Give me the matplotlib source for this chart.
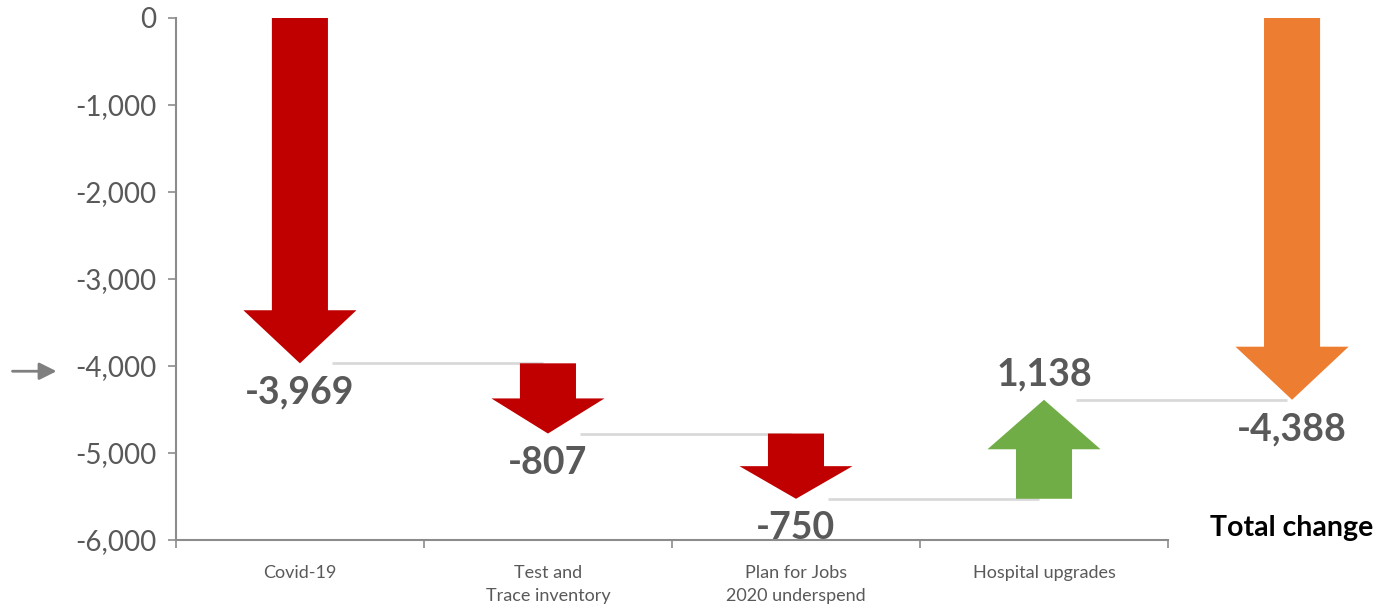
import numpy as np
import matplotlib
matplotlib.use("Agg")
import matplotlib.pyplot as plt
from matplotlib.patches import FancyArrow

# --- Data ---
categories = ["Covid-19", "Test and\nTrace inventory", "Plan for Jobs\n2020 underspend", "Hospital upgrades"]
changes = [-3969, -807, -750, 1138]
total_label = "Total change"
total_value = sum(changes)
yticks = [0, -1000, -2000, -3000, -4000, -5000, -6000]

# --- Style ---
RED = "#C00000"
GREEN = "#70AD47"
ORANGE = "#ED7D31"
LABEL_GREY = "#595959"
AXIS_GREY = "#8C8C8C"
LINE_GREY = "#D9D9D9"
plt.rcParams['font.family'] = ['Lato', 'DejaVu Sans']

fig = plt.figure(figsize=(13.96, 6.08), dpi=100)
ax = fig.add_axes([0.126, 0.1118, 0.7107, 0.8586])
ax.set_xlim(0, len(categories))
ax.set_ylim(-6000, 0)

shaft_w = 0.226
head_w = 0.456
max_head = 610


def draw_arrow(x, start, delta, color):
    head_len = min(abs(delta) * 0.5, max_head)
    arr = FancyArrow(x, start, 0, delta, width=shaft_w, head_width=head_w,
                     head_length=head_len, length_includes_head=True,
                     color=color, lw=0, zorder=3, clip_on=False)
    ax.add_patch(arr)


# --- Waterfall arrows ---
level = 0
ends = []
xs = np.arange(len(categories)) + 0.5
for i, (x, d) in enumerate(zip(xs, changes)):
    color = GREEN if d > 0 else RED
    draw_arrow(x, level, d, color)
    level += d
    ends.append(level)
    txt = f"{d:,}"
    if d > 0:
        ax.annotate(txt, (x, level), xytext=(0, 6), textcoords='offset points',
                    ha='center', va='bottom', fontsize=27, fontweight='bold', color=LABEL_GREY)
    else:
        ax.annotate(txt, (x, level), xytext=(0, -9), textcoords='offset points',
                    ha='center', va='top', fontsize=27, fontweight='bold', color=LABEL_GREY)

# total arrow, outside plot area
x_total = len(categories) + 0.5
draw_arrow(x_total, 0, total_value, ORANGE)
ax.annotate(f"{total_value:,}", (x_total, total_value), xytext=(0, -9), textcoords='offset points',
            ha='center', va='top', fontsize=27, fontweight='bold', color=LABEL_GREY,
            annotation_clip=False)
ax.text(x_total, -5860, total_label, ha='center', va='center', fontsize=20.5,
        fontweight='bold', color='black', clip_on=False)

# connector lines between arrows
next_xs = list(xs[1:]) + [x_total]
for x, x2, e in zip(xs, next_xs, ends):
    ax.plot([x + 0.13, x2 - 0.02], [e, e], color=LINE_GREY, lw=2, zorder=1,
            solid_capstyle='butt', clip_on=False)

# --- Axes ---
for s in ['top', 'right']:
    ax.spines[s].set_visible(False)
for s in ['left', 'bottom']:
    ax.spines[s].set_color(AXIS_GREY)
    ax.spines[s].set_linewidth(1.5)

ax.set_yticks(yticks)
ax.set_yticklabels([f"{v:,}" for v in yticks])
ax.tick_params(axis='y', direction='out', length=6, width=1.2, color=AXIS_GREY,
               labelsize=20, labelcolor=LABEL_GREY, pad=8)

ax.set_xticks(np.arange(len(categories) + 1))
ax.set_xticklabels([])
ax.set_xticks(xs, minor=True)
ax.set_xticklabels(categories, minor=True)
ax.tick_params(axis='x', which='major', direction='out', length=6, width=1.2, color=AXIS_GREY)
ax.tick_params(axis='x', which='minor', length=0, labelsize=13, labelcolor=LABEL_GREY, pad=18)
for t in ax.get_xticklabels(minor=True):
    t.set_linespacing(1.5)

# side pointer next to the -4,000 tick
ax.annotate("", xy=(-0.47, -4060), xytext=(-0.67, -4060),
            xycoords='data', annotation_clip=False,
            arrowprops=dict(arrowstyle='-|>', color='#7F7F7F', lw=2, mutation_scale=26))

fig.savefig("out.png", dpi=100)
